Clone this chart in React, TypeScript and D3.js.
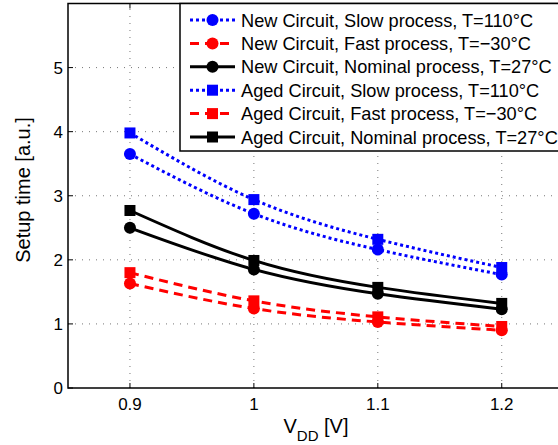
import React, { useEffect, useRef } from 'react';
import * as d3 from 'd3';

const vdd = [0.9, 1.0, 1.1, 1.2];

const newSlow = [3.65, 2.72, 2.16, 1.77];
const newFast = [1.63, 1.24, 1.03, 0.9];
const newNominal = [2.5, 1.85, 1.47, 1.23];
const agedSlow = [3.98, 2.94, 2.32, 1.88];
const agedFast = [1.8, 1.36, 1.11, 0.96];
const agedNominal = [2.77, 1.99, 1.57, 1.32];

const xTicks = [0.9, 1.0, 1.1, 1.2];
const yTicks = [0, 1, 2, 3, 4, 5];

const series = [
  { name: 'New Circuit, Slow process, T=110°C', values: newSlow, color: '#0000ff', dash: '3,3', marker: 'circle' },
  { name: 'New Circuit, Fast process, T=\u221230°C', values: newFast, color: '#ff0000', dash: '9,6', marker: 'circle' },
  { name: 'New Circuit, Nominal process, T=27°C', values: newNominal, color: '#000000', dash: null, marker: 'circle' },
  { name: 'Aged Circuit, Slow process, T=110°C', values: agedSlow, color: '#0000ff', dash: '3,3', marker: 'square' },
  { name: 'Aged Circuit, Fast process, T=\u221230°C', values: agedFast, color: '#ff0000', dash: '9,6', marker: 'square' },
  { name: 'Aged Circuit, Nominal process, T=27°C', values: agedNominal, color: '#000000', dash: null, marker: 'square' },
];

const App = () => {
  const svgRef = useRef<SVGSVGElement>(null);

  useEffect(() => {
    const svg = d3.select(svgRef.current);
    svg.selectAll('*').remove();

    const font = 'Liberation Sans, Arial, Helvetica, sans-serif';
    const left = 68, top = 3.5, bottom = 388, right = 563.7;

    const x = d3.scaleLinear().domain([0.85, 1.25]).range([left, right]);
    const y = d3.scaleLinear().domain([0, 6]).range([bottom, top]);

    svg.append('rect').attr('width', 558).attr('height', 445).attr('fill', 'white');

    // grid
    const grid = svg.append('g').attr('stroke', '#777').attr('stroke-width', 1).attr('stroke-dasharray', '1,6');
    xTicks.forEach(t => {
      grid.append('line').attr('x1', x(t)).attr('x2', x(t)).attr('y1', bottom).attr('y2', top);
    });
    yTicks.slice(1).forEach(t => {
      grid.append('line').attr('x1', left).attr('x2', right).attr('y1', y(t)).attr('y2', y(t));
    });

    // axes box
    svg.append('rect')
      .attr('x', left).attr('y', top)
      .attr('width', right - left).attr('height', bottom - top)
      .attr('fill', 'none').attr('stroke', '#000').attr('stroke-width', 1.5);

    // inner ticks + labels
    xTicks.forEach(t => {
      svg.append('line').attr('x1', x(t)).attr('x2', x(t)).attr('y1', bottom).attr('y2', bottom - 5).attr('stroke', '#000');
      svg.append('line').attr('x1', x(t)).attr('x2', x(t)).attr('y1', top).attr('y2', top + 5).attr('stroke', '#000');
      svg.append('text').attr('x', x(t)).attr('y', 410).attr('text-anchor', 'middle')
        .attr('font-family', font).attr('font-size', 17).text(String(+t.toFixed(1)));
    });
    yTicks.forEach(t => {
      svg.append('line').attr('x1', left).attr('x2', left + 5).attr('y1', y(t)).attr('y2', y(t)).attr('stroke', '#000');
      svg.append('text').attr('x', 63).attr('y', y(t) + 6).attr('text-anchor', 'end')
        .attr('font-family', font).attr('font-size', 17).text(t);
    });

    // axis labels
    svg.append('text')
      .attr('transform', `translate(30,190) rotate(-90)`)
      .attr('text-anchor', 'middle').attr('font-family', font).attr('font-size', 20)
      .text('Setup time [a.u.]');
    const xl = svg.append('text').attr('x', 316).attr('y', 433).attr('text-anchor', 'middle')
      .attr('font-family', font).attr('font-size', 20);
    xl.append('tspan').text('V');
    xl.append('tspan').attr('font-size', 15).attr('dy', 8).text('DD');
    xl.append('tspan').attr('dy', -8).text(' [V]');

    const line = d3.line<number>()
      .x((d, i) => x(vdd[i]))
      .y(d => y(d))
      .curve(d3.curveNatural);

    const drawMarker = (g: any, cx: number, cy: number, kind: string, color: string) => {
      if (kind === 'circle') {
        g.append('circle').attr('cx', cx).attr('cy', cy).attr('r', 6).attr('fill', color);
      } else {
        g.append('rect').attr('x', cx - 5.5).attr('y', cy - 5.5).attr('width', 11).attr('height', 11).attr('fill', color);
      }
    };

    series.forEach(s => {
      svg.append('path')
        .datum(s.values)
        .attr('fill', 'none')
        .attr('stroke', s.color)
        .attr('stroke-width', 3)
        .attr('stroke-dasharray', s.dash)
        .attr('d', line);
      const g = svg.append('g');
      s.values.forEach((v, i) => drawMarker(g, x(vdd[i]), y(v), s.marker, s.color));
    });

    // legend
    const lx = 180, ly = 3.5, lh = 147.5;
    svg.append('rect').attr('x', lx).attr('y', ly).attr('width', 400).attr('height', lh)
      .attr('fill', 'white').attr('stroke', '#000').attr('stroke-width', 1.5);
    series.forEach((s, i) => {
      const cy = 20 + i * 23.4;
      svg.append('line').attr('x1', 190).attr('x2', 235).attr('y1', cy).attr('y2', cy)
        .attr('stroke', s.color).attr('stroke-width', 3).attr('stroke-dasharray', s.dash);
      drawMarker(svg.append('g'), 212.5, cy, s.marker, s.color);
      svg.append('text').attr('x', 241).attr('y', cy + 6.5)
        .attr('font-family', font).attr('font-size', 18.2).text(s.name);
    });
  }, []);

  return (
    <div style={{ position: 'fixed', left: 0, top: 0 }}>
      <svg ref={svgRef} width={558} height={445} style={{ display: 'block' }} />
    </div>
  );
};

export default App;
